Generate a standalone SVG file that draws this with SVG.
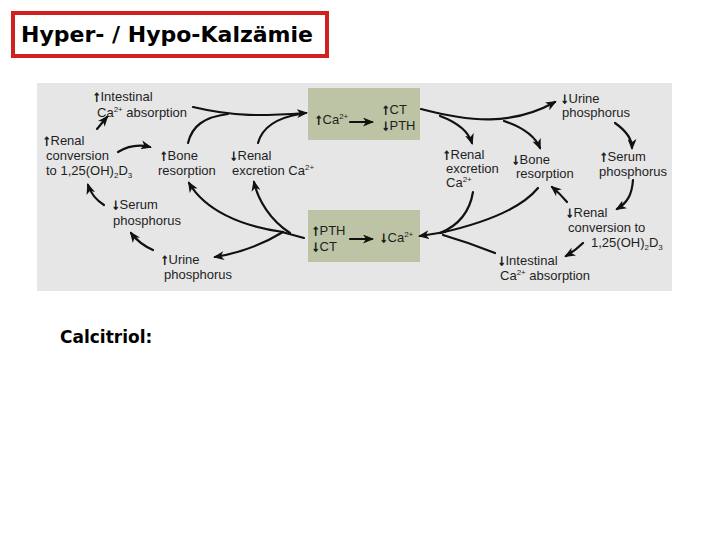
<svg xmlns="http://www.w3.org/2000/svg" width="720" height="540" viewBox="0 0 720 540">
<style>
.t{font-family:"Liberation Sans",Arial,sans-serif;font-size:13px;fill:#1e1e1e}
.a{font-weight:bold;font-size:15px;stroke:#1e1e1e;stroke-width:0.7}
.sup{font-size:8px}
.c{fill:none;stroke:#111;stroke-width:2.2;stroke-linecap:round}
.box{fill:#bcc4a5}
</style>
<defs>
<marker id="ah" markerUnits="userSpaceOnUse" markerWidth="11" markerHeight="9" refX="9" refY="4.5" orient="auto">
<path d="M0,0 L11,4.5 L0,9 L3,4.5 z" fill="#111"/>
</marker>
</defs>
<rect x="0" y="0" width="720" height="540" fill="#fff"/>
<g id="title">
<rect x="13" y="13" width="314" height="43" fill="#fff" stroke="#d2201f" stroke-width="4"/>
<text x="21" y="42" style="font-family:'DejaVu Sans',Verdana,sans-serif;font-weight:bold;font-size:22px;fill:#000">Hyper- / Hypo-Kalzämie</text>
</g>
<rect id="panel" x="37" y="83" width="635" height="208" fill="#e6e6e6"/>
<g id="box-top">
<rect class="box" x="308" y="88" width="112" height="52"/>
<text class="t" x="315" y="124"><tspan class="a">↑</tspan>Ca<tspan class="sup" dy="-5">2+</tspan></text>
<text class="t" x="382" y="114"><tspan class="a">↑</tspan>CT</text>
<text class="t" x="382" y="130"><tspan class="a">↓</tspan>PTH</text>
</g>
<g id="box-bottom">
<rect class="box" x="308" y="210" width="112" height="52"/>
<text class="t" x="312" y="235"><tspan class="a">↑</tspan>PTH</text>
<text class="t" x="312" y="251"><tspan class="a">↓</tspan>CT</text>
<text class="t" x="380" y="242"><tspan class="a">↓</tspan>Ca<tspan class="sup" dy="-5">2+</tspan></text>
</g>
<g id="n-int-up"><text class="t" x="93" y="101"><tspan class="a">↑</tspan>Intestinal</text><text class="t" x="97" y="117">Ca<tspan class="sup" dy="-5">2+</tspan><tspan dy="5"> absorption</tspan></text></g>
<g id="n-renconv-up"><text class="t" x="43" y="145"><tspan class="a">↑</tspan>Renal</text><text class="t" x="46" y="160">conversion</text><text class="t" x="46" y="175">to 1,25(OH)<tspan class="sup" dy="3">2</tspan><tspan dy="-3">D</tspan><tspan class="sup" dy="3">3</tspan></text></g>
<g id="n-bone-up"><text class="t" x="160" y="160"><tspan class="a">↑</tspan>Bone</text><text class="t" x="158" y="175">resorption</text></g>
<g id="n-renexc-down"><text class="t" x="230" y="160"><tspan class="a">↓</tspan>Renal</text><text class="t" x="232" y="175">excretion Ca<tspan class="sup" dy="-5">2+</tspan></text></g>
<g id="n-serum-down"><text class="t" x="112" y="209"><tspan class="a">↓</tspan>Serum</text><text class="t" x="113" y="225">phosphorus</text></g>
<g id="n-urine-up"><text class="t" x="161" y="264"><tspan class="a">↑</tspan>Urine</text><text class="t" x="164" y="279">phosphorus</text></g>
<g id="n-urine-down"><text class="t" x="561" y="103"><tspan class="a">↓</tspan>Urine</text><text class="t" x="562" y="117">phosphorus</text></g>
<g id="n-renexc-up"><text class="t" x="443" y="159"><tspan class="a">↑</tspan>Renal</text><text class="t" x="446" y="173">excretion</text><text class="t" x="446" y="187">Ca<tspan class="sup" dy="-5">2+</tspan></text></g>
<g id="n-bone-down"><text class="t" x="512" y="164"><tspan class="a">↓</tspan>Bone</text><text class="t" x="516" y="178">resorption</text></g>
<g id="n-serum-up"><text class="t" x="600" y="161"><tspan class="a">↑</tspan>Serum</text><text class="t" x="599" y="176">phosphorus</text></g>
<g id="n-renconv-down"><text class="t" x="566" y="217"><tspan class="a">↓</tspan>Renal</text><text class="t" x="568" y="232">conversion to</text><text class="t" x="591" y="247">1,25(OH)<tspan class="sup" dy="3">2</tspan><tspan dy="-3">D</tspan><tspan class="sup" dy="3">3</tspan></text></g>
<g id="n-int-down"><text class="t" x="498" y="265"><tspan class="a">↓</tspan>Intestinal</text><text class="t" x="500" y="280">Ca<tspan class="sup" dy="-5">2+</tspan><tspan dy="5"> absorption</tspan></text></g>
<g id="calcitriol"><text x="60" y="343" style="font-family:'DejaVu Sans',Verdana,sans-serif;font-weight:bold;font-size:17px;fill:#000">Calcitriol:</text></g>
<g id="connectors">
<path class="c" d="M350,122 L372,122" marker-end="url(#ah)"/>
<path class="c" d="M350,239 L372,239" marker-end="url(#ah)"/>
<path class="c" d="M193,107 C235,117 262,116 306,113" marker-end="url(#ah)"/>
<path class="c" d="M188,143 C192,126 204,117 228,114"/>
<path class="c" d="M258,143 C262,128 276,118 300,114"/>
<path class="c" d="M118,152 C128,146 138,144 150,147" marker-end="url(#ah)"/>
<path class="c" d="M97,129 L107,117" marker-end="url(#ah)"/>
<path class="c" d="M104,205 C96,200 91,194 88,185" marker-end="url(#ah)"/>
<path class="c" d="M153,250 C144,246 137,241 131,233" marker-end="url(#ah)"/>
<path class="c" d="M304,238 L282,232"/>
<path class="c" d="M283,232 C240,226 205,210 189,183" marker-end="url(#ah)"/>
<path class="c" d="M290,233 C270,220 258,200 254,182" marker-end="url(#ah)"/>
<path class="c" d="M283,232 C265,243 240,253 215,257" marker-end="url(#ah)"/>
<path class="c" d="M421,109 C470,122 512,126 555,102" marker-end="url(#ah)"/>
<path class="c" d="M440,116 C456,122 468,130 472,143" marker-end="url(#ah)"/>
<path class="c" d="M504,121 C522,127 535,136 540,148" marker-end="url(#ah)"/>
<path class="c" d="M615,123 C625,130 632,138 632,148" marker-end="url(#ah)"/>
<path class="c" d="M633,180 C632,195 627,203 617,209" marker-end="url(#ah)"/>
<path class="c" d="M567,202 C562,196 558,192 552,187" marker-end="url(#ah)"/>
<path class="c" d="M583,243 C578,248 573,252 566,256" marker-end="url(#ah)"/>
<path class="c" d="M445,232 L420,236" marker-end="url(#ah)"/>
<path class="c" d="M473,192 C470,210 460,225 440,233"/>
<path class="c" d="M538,188 C520,210 480,224 440,233"/>
<path class="c" d="M495,253 C475,245 460,240 443,235"/>
</g>
</svg>
